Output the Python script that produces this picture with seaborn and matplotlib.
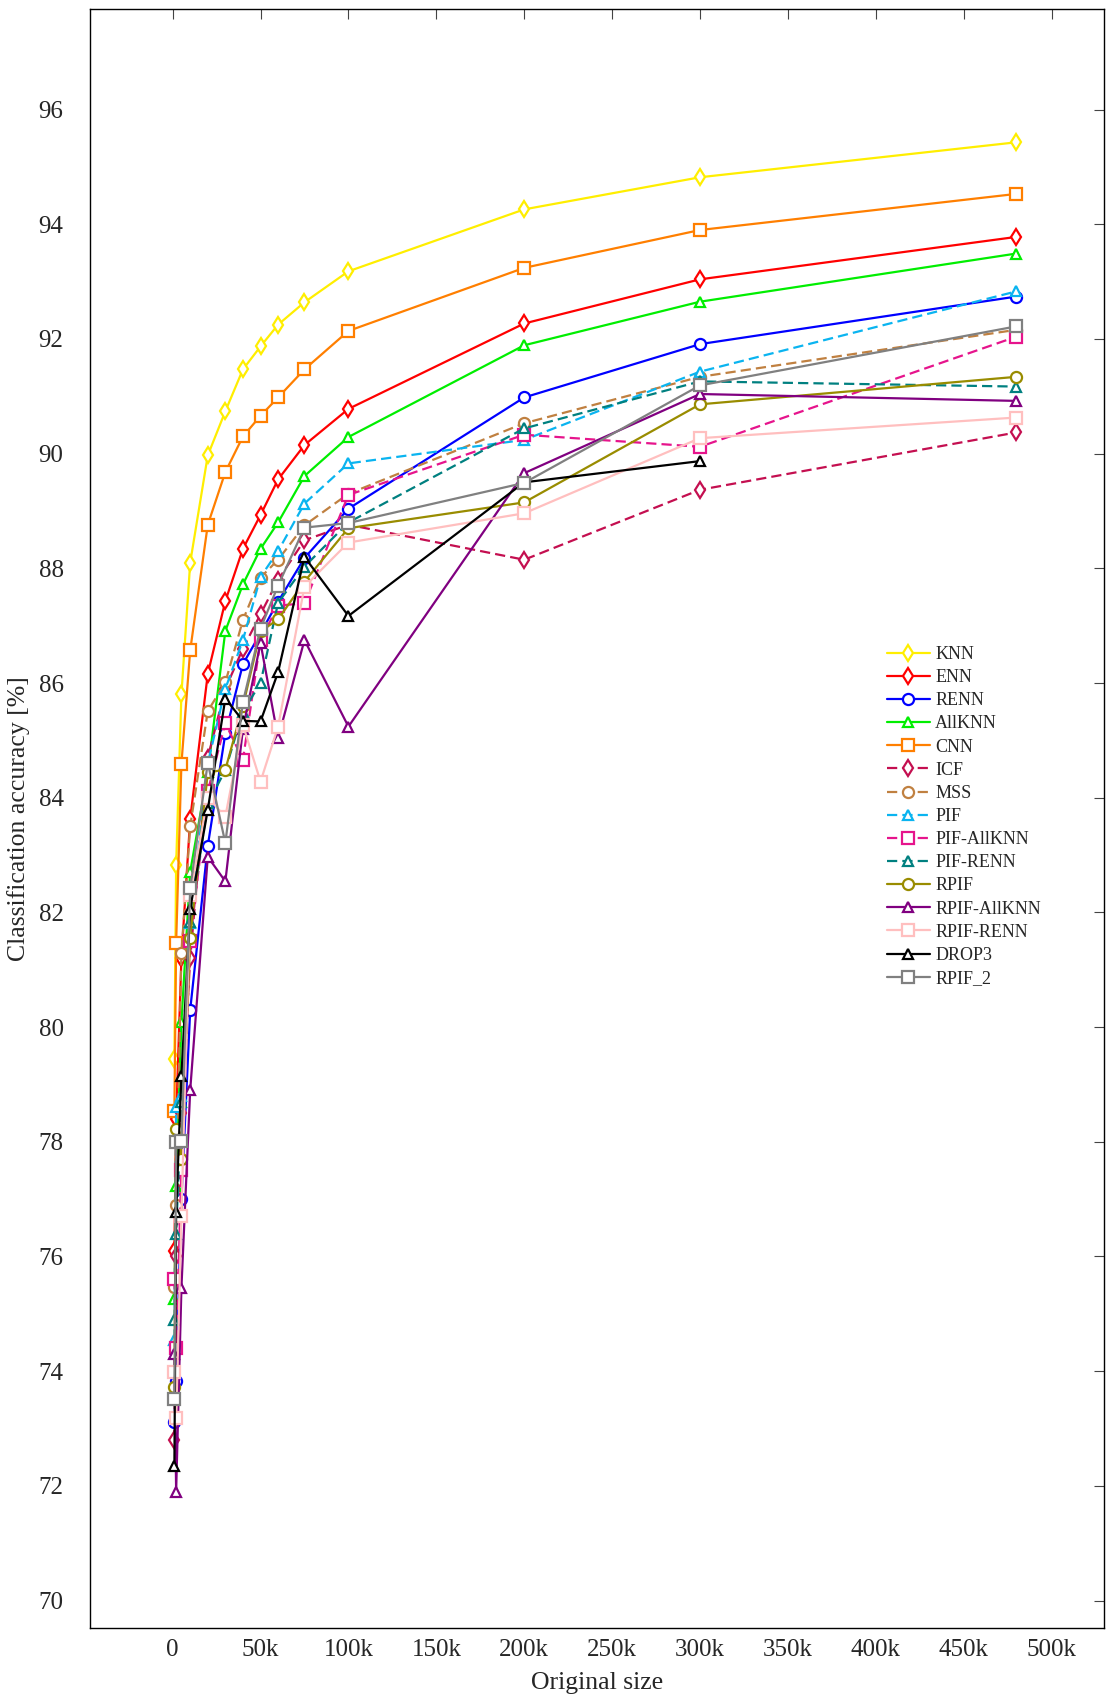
import matplotlib
matplotlib.use('Agg')
import matplotlib.pyplot as plt
import seaborn as sns

# original dataset sizes (x axis)
sizes = [1000, 2000, 5000, 10000, 20000, 30000, 40000, 50000, 60000,
         75000, 100000, 200000, 300000, 480000]

# classification accuracy [%] per method, same order as sizes
knn = [79.45, 82.83, 85.80, 88.10, 89.97, 90.74, 91.47, 91.87, 92.25,
       92.64, 93.18, 94.26, 94.82, 95.43]
enn = [76.10, 78.40, 81.20, 83.63, 86.16, 87.43, 88.34, 88.93, 89.55,
       90.15, 90.78, 92.27, 93.04, 93.78]
renn = [73.12, 73.82, 77.00, 80.30, 83.16, 85.12, 86.33, 86.87, 87.42,
        88.18, 89.04, 90.98, 91.91, 92.74]
allknn = [75.26, 77.22, 80.08, 82.71, 84.45, 86.91, 87.72, 88.34, 88.80,
          89.61, 90.29, 91.89, 92.65, 93.49]
cnn = [78.53, 81.47, 84.59, 86.57, 88.76, 89.68, 90.30, 90.66, 90.98,
       91.47, 92.14, 93.24, 93.90, 94.53]
icf = [72.80, 76.00, 78.50, 81.20, 84.70, 85.90, 86.60, 87.20, 87.80,
       88.49, 88.76, 88.15, 89.37, 90.37]
mss = [75.46, 76.90, 81.30, 83.50, 85.51, 86.01, 87.10, 87.84, 88.15,
       88.75, 89.30, 90.53, 91.34, 92.16]
pif = [74.55, 78.60, 78.79, 81.81, 84.60, 85.90, 86.75, 87.85, 88.30,
       89.13, 89.83, 90.24, 91.43, 92.83]
pif_allknn = [75.60, 74.40, 77.50, 81.50, 84.11, 85.30, 84.66, 86.75,
              87.35, 87.39, 89.28, 90.33, 90.12, 92.04]
pif_renn = [74.90, 76.40, 78.70, 81.84, 83.90, 84.48, 85.50, 86.00, 87.40,
            88.03, 88.80, 90.44, 91.26, 91.17]
rpif = [73.73, 78.22, 77.70, 81.56, 84.44, 84.49, 85.60, 86.90, 87.11,
        87.77, 88.70, 89.15, 90.86, 91.34]
rpif_allknn = [74.30, 71.90, 75.45, 78.90, 82.97, 82.54, 85.20, 86.70,
               85.04, 86.75, 85.24, 89.66, 91.04, 90.92]
rpif_renn = [73.99, 73.18, 76.70, 82.30, 84.00, 83.67, 85.27, 84.28, 85.24,
             87.68, 88.45, 88.96, 90.27, 90.63]
drop3 = [72.34, 76.78, 79.15, 82.06, 83.79, 85.73, 85.34, 85.33, 86.19,
         88.20, 87.17, 89.50, 89.87]
rpif_2 = [73.52, 77.99, 78.02, 82.42, 84.61, 83.21, 85.67, 86.95, 87.70,
          88.71, 88.79, 89.49, 91.19, 92.22]

x_ticks = [0, 50000, 100000, 150000, 200000, 250000, 300000, 350000,
           400000, 450000, 500000]
x_tick_labels = ['0', '50k', '100k', '150k', '200k', '250k', '300k',
                 '350k', '400k', '450k', '500k']
y_ticks = list(range(70, 97, 2))

sns.set_theme(style='white')
plt.rcParams['font.family'] = ['Liberation Serif', 'DejaVu Serif']
plt.rcParams['mathtext.fontset'] = 'stix'

DASH = (0, (4.6, 2.3))

# name, values, colour, marker, linestyle
series = [
    ('KNN', knn, '#FFEE00', 'd', '-'),
    ('ENN', enn, '#FF0000', 'd', '-'),
    ('RENN', renn, '#0000FF', 'o', '-'),
    ('AllKNN', allknn, '#00EE00', '^', '-'),
    ('CNN', cnn, '#FF7F00', 's', '-'),
    ('ICF', icf, '#C40F50', 'd', DASH),
    ('MSS', mss, '#C08040', 'o', DASH),
    ('PIF', pif, '#0AB4F0', '^', DASH),
    ('PIF-AllKNN', pif_allknn, '#E6148C', 's', DASH),
    ('PIF-RENN', pif_renn, '#008080', '^', DASH),
    ('RPIF', rpif, '#998C00', 'o', '-'),
    ('RPIF-AllKNN', rpif_allknn, '#800080', '^', '-'),
    ('RPIF-RENN', rpif_renn, '#FFBFBF', 's', '-'),
    ('DROP3', drop3, '#000000', '^', '-'),
    ('RPIF_2', rpif_2, '#808080', 's', '-'),
]

marker_sizes = {'d': 8, 'o': 8, '^': 7.5, 's': 8.5}

fig = plt.figure(figsize=(11.07, 17.01), dpi=100)
ax = fig.add_axes([0.0813, 0.0429, 0.9158, 0.952])

for name, vals, color, marker, ls in series:
    sns.lineplot(x=sizes[:len(vals)], y=vals, ax=ax, color=color,
                 marker=marker, markersize=marker_sizes[marker],
                 markerfacecolor='white', markeredgecolor=color,
                 markeredgewidth=1.6, linewidth=1.6, linestyle=ls,
                 label=name)

ax.set_xlim(-47000, 529700)
ax.set_ylim(69.52, 97.76)
ax.set_xticks(x_ticks)
ax.set_xticklabels(x_tick_labels)
ax.set_yticks(y_ticks)
ax.set_yticklabels([str(t) for t in y_ticks])
ax.tick_params(axis='both', direction='in', length=7, width=0.8,
               color='#444444', labelsize=18, top=True, right=True)
ax.tick_params(axis='y', pad=19)
ax.tick_params(axis='x', pad=8)
ax.set_xlabel('Original size', fontsize=18.5, labelpad=8)
ax.set_ylabel('Classification accuracy [%]', fontsize=18.5, labelpad=6)

for sp in ax.spines.values():
    sp.set_color('black')
    sp.set_linewidth(1.0)

ax.legend(loc='upper left', bbox_to_anchor=(0.7857, 0.6064), frameon=False,
          fontsize=13, borderpad=0, borderaxespad=0, handlelength=2.4,
          handletextpad=0.3, labelspacing=0.34, numpoints=1)

fig.savefig('out.png', dpi=100)
